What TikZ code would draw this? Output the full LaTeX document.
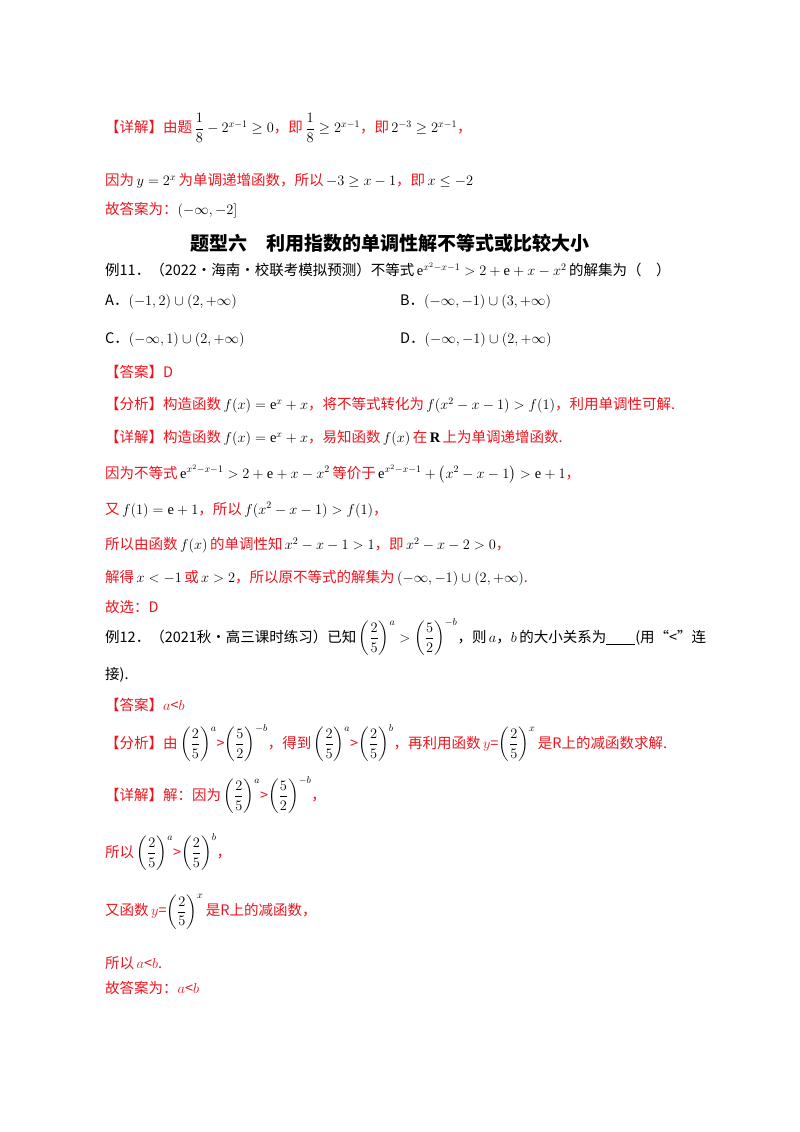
\documentclass[tikz,border=0pt]{standalone}
\usepackage{fontspec}
\usepackage{amsmath}
\newfontfamily\cjk{Noto Sans CJK SC}
\setmainfont{Liberation Serif}
\definecolor{rd}{RGB}{235,20,30}
\tikzset{ln/.style={anchor=west,inner sep=0pt,font=\fontsize{14.5}{17}\selectfont\cjk,text=rd},
  blk/.style={ln,text=black}}
\newcommand{\lp}[1]{\left(#1\right)}
\newcommand{\tf}{\lp{\dfrac{2}{5}}}
\newcommand{\ft}{\lp{\dfrac{5}{2}}}
\begin{document}
\begin{tikzpicture}[x=1pt,y=-1pt]
\useasboundingbox (0,0) rectangle (800,1132);
\node[ln] (a1) at (105,128) {【详解】由题\,\textcolor{black}{$\dfrac18-2^{x-1}\ge0$}，即\,\textcolor{black}{$\dfrac18\ge2^{x-1}$}，即\,\textcolor{black}{$2^{-3}\ge2^{x-1}$}，};
\node[ln] (a2) at (105,181) {因为\,\textcolor{black}{$y=2^x$}\,为单调递增函数，所以\,\textcolor{black}{$-3\ge x-1$}，即\,\textcolor{black}{$x\le-2$}};
\node[ln] (a3) at (105,210) {故答案为：\textcolor{black}{$(-\infty,-2]$}};
\node[anchor=center,inner sep=0pt,font=\fontsize{19}{21}\selectfont\cjk\bfseries] (t) at (390,243) {题型六\quad 利用指数的单调性解不等式或比较大小};
\node[blk] (b1) at (105,270) {例11．（2022·海南·校联考模拟预测）不等式\,$\mathrm{e}^{x^2-x-1}>2+\mathrm{e}+x-x^2$\,的解集为（\quad ）};
\node[blk] (bA) at (105,302) {A．$(-1,2)\cup(2,+\infty)$};
\node[blk] (bB) at (400,302) {B．$(-\infty,-1)\cup(3,+\infty)$};
\node[blk] (bC) at (105,340) {C．$(-\infty,1)\cup(2,+\infty)$};
\node[blk] (bD) at (400,340) {D．$(-\infty,-1)\cup(2,+\infty)$};
\node[ln] (b2) at (105,372) {【答案】D};
\node[ln] (b3) at (105,405) {【分析】构造函数\,\textcolor{black}{$f(x)=\mathrm{e}^x+x$}，将不等式转化为\,\textcolor{black}{$f(x^2-x-1)>f(1)$}，利用单调性可解.};
\node[ln] (b4) at (105,438) {【详解】构造函数\,\textcolor{black}{$f(x)=\mathrm{e}^x+x$}，易知函数\,\textcolor{black}{$f(x)$}\,在\,\textcolor{black}{$\mathbf{R}$}\,上为单调递增函数.};
\node[ln] (b5) at (105,474) {因为不等式\,\textcolor{black}{$\mathrm{e}^{x^2-x-1}>2+\mathrm{e}+x-x^2$}\,等价于\,\textcolor{black}{$\mathrm{e}^{x^2-x-1}+\left(x^2-x-1\right)>\mathrm{e}+1$}，};
\node[ln] (b6) at (105,510) {又\,\textcolor{black}{$f(1)=\mathrm{e}+1$}，所以\,\textcolor{black}{$f(x^2-x-1)>f(1)$}，};
\node[ln] (b7) at (105,545) {所以由函数\,\textcolor{black}{$f(x)$}\,的单调性知\,\textcolor{black}{$x^2-x-1>1$}，即\,\textcolor{black}{$x^2-x-2>0$}，};
\node[ln] (b8) at (105,578) {解得\,\textcolor{black}{$x<-1$}\,或\,\textcolor{black}{$x>2$}，所以原不等式的解集为\,\textcolor{black}{$(-\infty,-1)\cup(2,+\infty)$}.};
\node[ln] (b9) at (105,607) {故选：D};
\node[blk] (c1) at (105,637) {例12．（2021秋·高三课时练习）已知\,$\tf^{a}>\ft^{-b}$，则\,$a$，$b$\,的大小关系为\underline{\hspace{2em}}(用“<”连};
\node[blk] (c2) at (105,675) {接).};
\node[ln] (c3) at (105,705) {【答案】$a$<$b$};
\node[ln] (c4) at (105,743) {【分析】由\,\textcolor{black}{$\tf^{a}$}>\textcolor{black}{$\ft^{-b}$}，得到\,\textcolor{black}{$\tf^{a}$}>\textcolor{black}{$\tf^{b}$}，再利用函数\,$y$=\textcolor{black}{$\tf^{x}$}\,是R上的减函数求解.};
\node[ln] (c5) at (105,795) {【详解】解：因为\,\textcolor{black}{$\tf^{a}$}>\textcolor{black}{$\ft^{-b}$}，};
\node[ln] (c6) at (105,852) {所以\,\textcolor{black}{$\tf^{a}$}>\textcolor{black}{$\tf^{b}$}，};
\node[ln] (c7) at (105,912) {又函数\,$y$=\textcolor{black}{$\tf^{x}$}\,是R上的减函数，};
\node[ln] (c8) at (105,963) {所以\,$a$<$b$.};
\node[ln] (c9) at (105,988) {故答案为：$a$<$b$};
\end{tikzpicture}
\end{document}
